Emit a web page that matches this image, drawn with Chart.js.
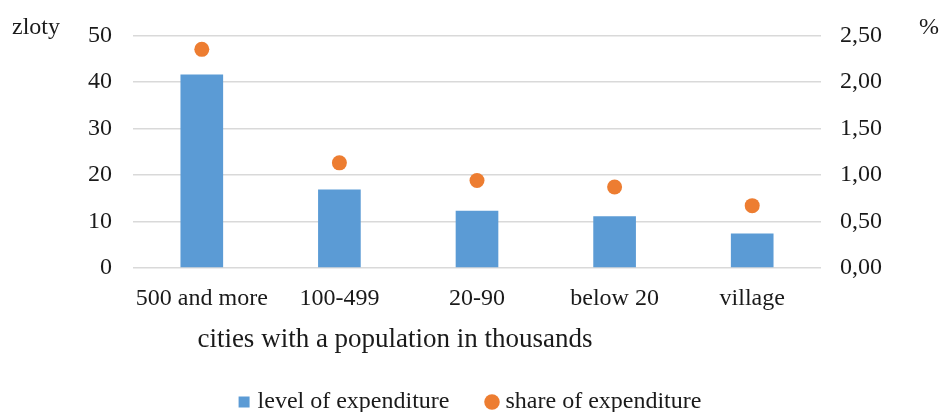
<!DOCTYPE html>
<html>
<head>
<meta charset="utf-8">
<script src="https://cdn.jsdelivr.net/npm/chart.js@4"></script>
<style>
    html, body { margin: 0; padding: 0; background: #fff; }
    #wrap { width: 944px; height: 412px; }
</style>
</head>
<body>
<div id="wrap"><canvas id="chart" width="944" height="412"></canvas></div>
<script>
// data
const categories = ['500 and more', '100-499', '20-90', 'below 20', 'village'];
const levelValues = [41.6, 16.9, 12.3, 11.1, 7.4];
const shareValues = [2.35, 1.13, 0.94, 0.87, 0.67];
const leftTicks = ['0', '10', '20', '30', '40', '50'];
const rightTicks = ['0,00', '0,50', '1,00', '1,50', '2,00', '2,50'];

const FONT = 'Liberation Serif, Times New Roman, serif';
const TEXT = '#1a1a1a';

// axis captions drawn next to the chart area
const captions = {
    id: 'captions',
    afterDraw(chart) {
        const ctx = chart.ctx;
        const area = chart.chartArea;
        ctx.save();
        ctx.fillStyle = TEXT;
        ctx.font = '24px ' + FONT;
        ctx.textBaseline = 'middle';
        ctx.textAlign = 'left';
        ctx.fillText('zloty', 12, 28);
        ctx.fillText('%', 919, 28);
        ctx.font = '27px ' + FONT;
        ctx.textAlign = 'center';
        ctx.fillText('cities with a population in thousands', 395, area.bottom + 72);
        ctx.restore();
    }
};

// wide label padding spaces the two legend items apart; trim the height it adds
const legendShift = {
    id: 'legendShift',
    beforeInit(chart) {
        const fit = chart.legend.fit;
        chart.legend.fit = function () {
            fit.call(this);
            this.height -= 12;
        };
    }
};

new Chart(document.getElementById('chart'), {
    data: {
        labels: categories,
        datasets: [
            {
                type: 'line',
                label: 'share of expenditure',
                data: shareValues,
                yAxisID: 'y1',
                showLine: false,
                pointStyle: 'circle',
                pointRadius: 7.5,
                pointHoverRadius: 7.5,
                backgroundColor: '#ed7d31',
                borderColor: '#ed7d31',
                borderWidth: 0,
                order: 0
            },
            {
                type: 'bar',
                label: 'level of expenditure',
                data: levelValues,
                yAxisID: 'y',
                backgroundColor: '#5b9bd5',
                borderColor: '#5b9bd5',
                borderWidth: 0,
                pointStyle: 'rect',
                categoryPercentage: 1,
                barPercentage: 0.31,
                order: 1
            }
        ]
    },
    options: {
        responsive: false,
        animation: false,
        layout: { padding: { top: 35, left: 0, right: 0, bottom: 0 } },
        plugins: {
            tooltip: { enabled: false },
            legend: {
                position: 'bottom',
                reverse: true,
                labels: {
                    usePointStyle: true,
                    boxWidth: 3,
                    boxHeight: 11,
                    padding: 41,
                    color: TEXT,
                    font: { family: FONT, size: 24 }
                }
            }
        },
        scales: {
            x: {
                grid: { display: false },
                border: { display: false },
                ticks: {
                    color: TEXT,
                    padding: 8,
                    maxRotation: 0,
                    font: { family: FONT, size: 24 }
                },
                afterFit(scale) { scale.height = 81; }
            },
            y: {
                position: 'left',
                min: 0,
                max: 50,
                grid: { color: '#d9d9d9', lineWidth: 1.5, drawTicks: false },
                border: { display: false },
                ticks: {
                    stepSize: 10,
                    padding: 21,
                    color: TEXT,
                    font: { family: FONT, size: 24 },
                    callback: (v, i) => leftTicks[i]
                },
                afterFit(scale) { scale.width = 133; }
            },
            y1: {
                position: 'right',
                min: 0,
                max: 2.5,
                grid: { display: false, drawTicks: false },
                border: { display: false },
                ticks: {
                    stepSize: 0.5,
                    padding: 19,
                    color: TEXT,
                    font: { family: FONT, size: 24 },
                    callback: (v, i) => rightTicks[i]
                },
                afterFit(scale) { scale.width = 123; }
            }
        }
    },
    plugins: [captions, legendShift]
});
</script>
</body>
</html>
